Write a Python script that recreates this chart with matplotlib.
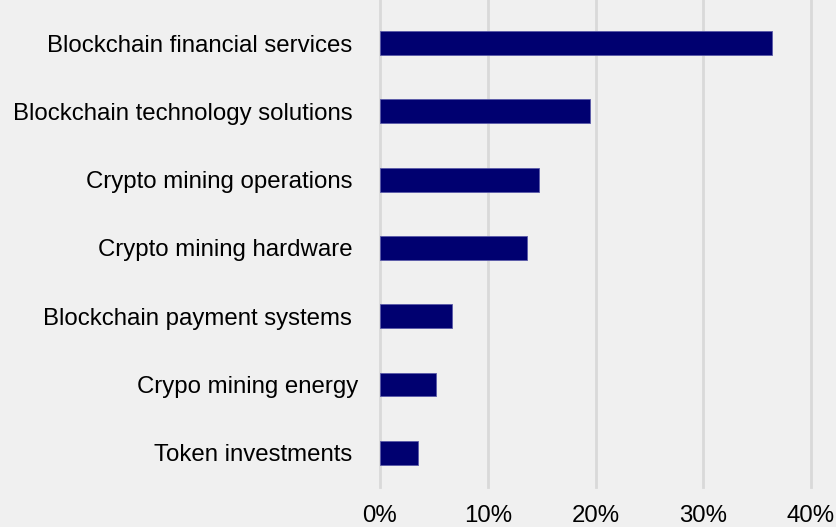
import matplotlib.pyplot as plt
import matplotlib.transforms as mtransforms
from matplotlib.ticker import FuncFormatter

# sector shares of the portfolio, in percent
sectors = [
    "Blockchain financial services",
    "Blockchain technology solutions",
    "Crypto mining operations",
    "Crypto mining hardware",
    "Blockchain payment systems",
    "Crypo mining energy",
    "Token investments",
]
shares = [36.4, 19.5, 14.8, 13.6, 6.7, 5.2, 3.5]

plt.rcParams['font.family'] = ['Liberation Sans', 'DejaVu Sans']
plt.rcParams['font.stretch'] = 'normal'

bg = "#f0f0f0"
fig = plt.figure(figsize=(8.37, 5.27), dpi=100, facecolor=bg)
ax = fig.add_axes([380 / 837, 40 / 527, 431 / 837, 487 / 527], facecolor=bg)

pos = list(range(len(sectors)))
ax.barh(pos, shares, height=0.35, color="#000070", edgecolor="#5a5aa8", linewidth=0.6, zorder=3)

ax.set_xlim(0, 40)
ax.set_ylim(6.5, -0.63)
ax.set_xticks([0, 10, 20, 30, 40])
ax.xaxis.set_major_formatter(FuncFormatter(lambda v, _: "{:.0f}%".format(v)))
ax.set_yticks(pos)
ax.set_yticklabels(sectors)

ax.grid(axis="x", color="#d9d9d9", linewidth=2, zorder=0)
for gl in ax.get_xgridlines():
    gl.set_clip_on(False)
ax.grid(axis="y", visible=False)
for s in ax.spines.values():
    s.set_visible(False)

ax.tick_params(axis="x", length=0, pad=13, labelsize=17.3, colors="#000000")
ax.tick_params(axis="y", length=0, pad=20, labelsize=17.3, colors="#000000")

# the energy label sits a little closer to its bar
lbl = ax.get_yticklabels()[5]
lbl.set_transform(lbl.get_transform() + mtransforms.ScaledTranslation(6 / 100, 0, fig.dpi_scale_trans))

fig.savefig("out.png", dpi=100, facecolor=bg)
